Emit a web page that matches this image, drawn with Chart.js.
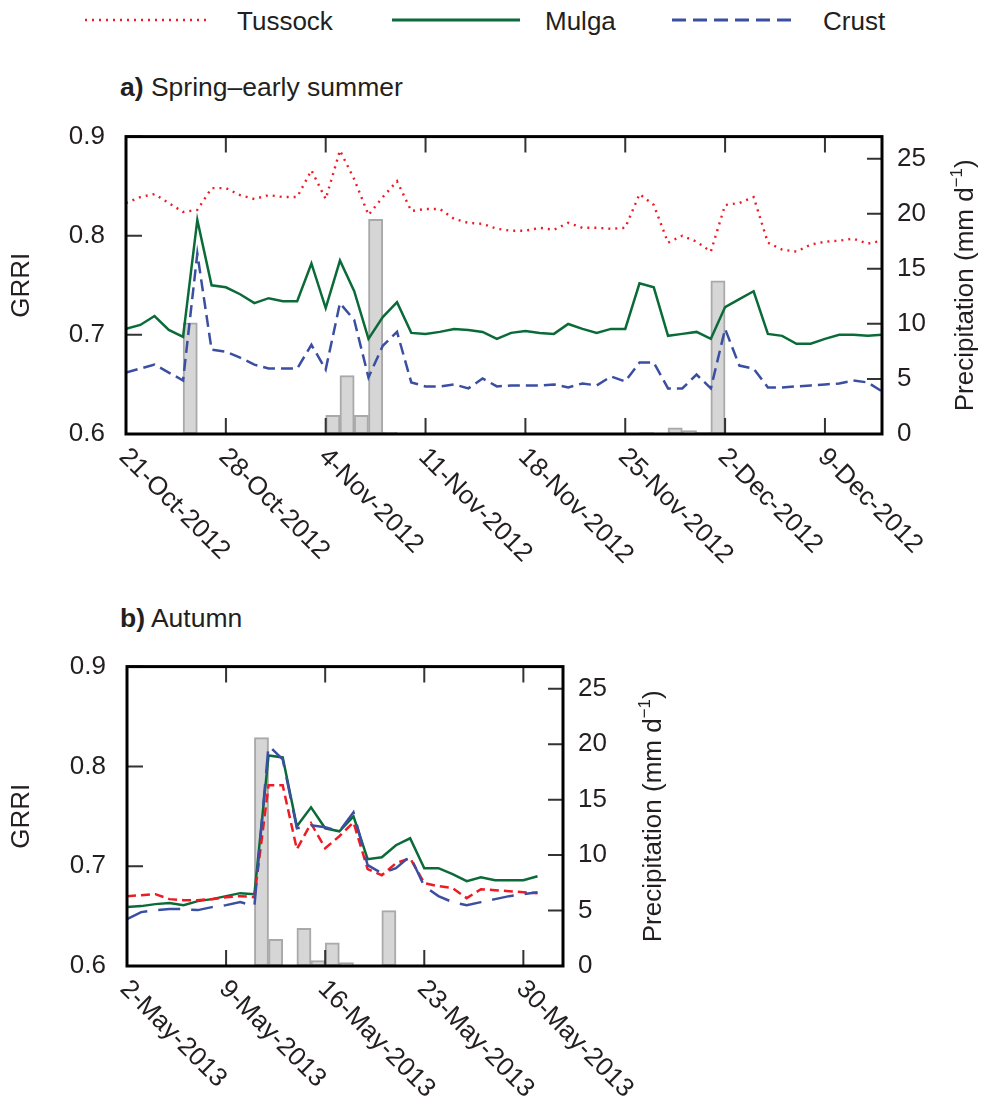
<!DOCTYPE html>
<html>
<head>
<meta charset="utf-8">
<script src="https://cdn.jsdelivr.net/npm/chart.js@4.4.1/dist/chart.umd.min.js"></script>
<style>
  body { margin: 0; background: #fff; width: 988px; height: 1108px; position: relative; overflow: hidden;
         font-family: "Liberation Sans", Arial, sans-serif; color: #231f20; }
  canvas { position: absolute; left: 0; }
  #chartA { top: 100px; }
  #chartB { top: 630px; }
  .title { position: absolute; left: 120px; font-size: 26.5px; line-height: 1; white-space: nowrap; }
  .title b { font-weight: bold; }
  #legend { position: absolute; left: 0; top: 0; }
</style>
</head>
<body>
<svg id="legend" width="988" height="50">
  <line x1="85" y1="20" x2="207" y2="20" stroke="#ed1c24" stroke-width="2.4" stroke-dasharray="2 5"/>
  <text x="237" y="30" font-size="26" font-family="Liberation Sans, Arial, sans-serif" fill="#231f20">Tussock</text>
  <line x1="392" y1="20" x2="520" y2="20" stroke="#0b6b38" stroke-width="3"/>
  <text x="545" y="30" font-size="26" font-family="Liberation Sans, Arial, sans-serif" fill="#231f20">Mulga</text>
  <line x1="672" y1="20" x2="797" y2="20" stroke="#3a4ea2" stroke-width="3" stroke-dasharray="14 7"/>
  <text x="823" y="30" font-size="26" font-family="Liberation Sans, Arial, sans-serif" fill="#231f20">Crust</text>
</svg>
<div class="title" style="top:74px"><b>a)</b> Spring–early summer</div>
<div class="title" style="top:605px"><b>b)</b> Autumn</div>
<canvas id="chartA" width="988" height="500"></canvas>
<canvas id="chartB" width="988" height="478"></canvas>
<script>
// Panel a: daily GRRI from 21-Oct-2012 (day 0) to 13-Dec-2012 (day 53)
const tussockA = [0.833, 0.839, 0.842, 0.833, 0.824, 0.826, 0.848, 0.848, 0.841, 0.837, 0.841, 0.839, 0.839, 0.866,
                  0.837, 0.886, 0.857, 0.821, 0.839, 0.855, 0.825, 0.827, 0.827, 0.817, 0.813, 0.812, 0.807, 0.805,
                  0.805, 0.808, 0.806, 0.813, 0.808, 0.808, 0.807, 0.808, 0.842, 0.831, 0.793, 0.800, 0.794,
                  0.784, 0.831, 0.833, 0.839, 0.793, 0.786, 0.784, 0.791, 0.794, 0.795, 0.797, 0.792, 0.795];
const mulgaA = [0.706, 0.710, 0.719, 0.705, 0.698, 0.816, 0.750, 0.748, 0.741, 0.732, 0.737, 0.734, 0.734, 0.772,
                0.727, 0.775, 0.744, 0.696, 0.718, 0.733, 0.702, 0.701, 0.703, 0.706, 0.705, 0.703, 0.696, 0.702,
                0.704, 0.702, 0.701, 0.711, 0.706, 0.702, 0.706, 0.706, 0.752, 0.748, 0.699, 0.701, 0.703,
                0.696, 0.728, 0.736, 0.744, 0.701, 0.699, 0.691, 0.691, 0.696, 0.700, 0.700, 0.699, 0.700];
const crustA = [0.662, 0.666, 0.670, 0.662, 0.654, 0.782, 0.685, 0.683, 0.677, 0.670, 0.666, 0.666, 0.666, 0.690,
                0.665, 0.732, 0.715, 0.657, 0.689, 0.703, 0.652, 0.648, 0.648, 0.650, 0.646, 0.656, 0.648, 0.649,
                0.649, 0.649, 0.650, 0.647, 0.651, 0.649, 0.658, 0.653, 0.672, 0.672, 0.646, 0.646, 0.660,
                0.646, 0.706, 0.669, 0.666, 0.647, 0.647, 0.648, 0.649, 0.650, 0.651, 0.654, 0.652, 0.643];
const rainDaysA = [4, 14, 15, 16, 17, 18, 36, 38, 39, 40, 41];
const rainA = [10.1, 1.7, 5.3, 1.7, 19.5, 0.15, 0.12, 0.55, 0.3, 0.15, 13.9];
const dateDaysA = [0, 7, 14, 21, 28, 35, 42, 49];
const dateLabelsA = ['21-Oct-2012', '28-Oct-2012', '4-Nov-2012', '11-Nov-2012', '18-Nov-2012',
                     '25-Nov-2012', '2-Dec-2012', '9-Dec-2012'];

// Panel b: daily GRRI from 2-May-2013 (day 0) to 31-May-2013 (day 29)
const tussockB = [0.670, 0.671, 0.672, 0.667, 0.666, 0.666, 0.667, 0.669, 0.670, 0.669, 0.781, 0.781, 0.717, 0.743,
                  0.718, 0.730, 0.744, 0.697, 0.691, 0.703, 0.708, 0.683, 0.680, 0.678, 0.668, 0.677, 0.676, 0.675,
                  0.674, 0.673];
const mulgaB = [0.659, 0.660, 0.662, 0.663, 0.661, 0.665, 0.667, 0.670, 0.673, 0.672, 0.811, 0.809, 0.740, 0.759,
                0.738, 0.735, 0.750, 0.707, 0.709, 0.721, 0.728, 0.698, 0.698, 0.692, 0.685, 0.689, 0.686, 0.686,
                0.686, 0.690];
const crustB = [0.647, 0.654, 0.656, 0.657, 0.657, 0.656, 0.659, 0.661, 0.664, 0.660, 0.821, 0.807, 0.738, 0.741,
                0.739, 0.735, 0.754, 0.701, 0.693, 0.698, 0.710, 0.680, 0.670, 0.664, 0.661, 0.664, 0.667, 0.670,
                0.672, 0.674];
const rainDaysB = [9, 10, 12, 13, 14, 15, 18];
const rainB = [20.6, 2.4, 3.4, 0.5, 2.1, 0.3, 5.0];
const dateDaysB = [0, 7, 14, 21, 28];
const dateLabelsB = ['2-May-2013', '9-May-2013', '16-May-2013', '23-May-2013', '30-May-2013'];

const grriTicks = [0.6, 0.7, 0.8, 0.9];
const rainTicks = [0, 5, 10, 15, 20, 25];

const FONT = '"Liberation Sans", Arial, sans-serif';
const INK = '#231f20';
const RED = '#ed1c24', GREEN = '#0b6b38', BLUE = '#3a4ea2';

const series = vals => vals.map((v, i) => ({ x: i, y: v }));
// rain is a daily total, so each bar spans its whole day
const rainBars = (days, vals) => days.map((d, i) => ({ x: d + 0.5, y: vals[i] }));

// frame, inward ticks, slanted date labels and both axis titles
const panelDecor = {
  id: 'panelDecor',
  afterDraw(chart, args, opts) {
    const { ctx, chartArea: a, scales } = chart;
    const { x, y, y2 } = scales;
    ctx.save();
    ctx.strokeStyle = '#333';
    ctx.lineWidth = 2;
    ctx.beginPath();
    x.ticks.forEach(t => {
      const px = x.getPixelForValue(t.value);
      ctx.moveTo(px, a.top); ctx.lineTo(px, a.top + 16);
      ctx.moveTo(px, a.bottom); ctx.lineTo(px, a.bottom - 16);
    });
    y.ticks.forEach(t => {
      const py = y.getPixelForValue(t.value);
      ctx.moveTo(a.left, py); ctx.lineTo(a.left + 16, py);
    });
    y2.ticks.forEach(t => {
      const py = y2.getPixelForValue(t.value);
      ctx.moveTo(a.right, py); ctx.lineTo(a.right - 15, py);
    });
    ctx.stroke();

    ctx.strokeStyle = '#000';
    ctx.lineWidth = 3;
    ctx.strokeRect(a.left, a.top, a.right - a.left, a.bottom - a.top);

    ctx.fillStyle = INK;
    ctx.font = `26px ${FONT}`;
    ctx.textAlign = 'left';
    ctx.textBaseline = 'middle';
    x.ticks.forEach((t, i) => {
      const px = x.getPixelForValue(t.value);
      ctx.save();
      ctx.translate(px - 3, a.bottom + 19);
      ctx.rotate(Math.PI / 4);
      ctx.fillText(opts.labels[i], 0, 0);
      ctx.restore();
    });

    const cy = (a.top + a.bottom) / 2;
    ctx.save();
    ctx.translate(22, cy);
    ctx.rotate(-Math.PI / 2);
    ctx.textAlign = 'center';
    ctx.fillText('GRRI', 0, 0);
    ctx.restore();

    // Precipitation (mm d^-1), reading upwards
    ctx.save();
    ctx.translate(a.right + opts.rightTitleGap, cy);
    ctx.rotate(-Math.PI / 2);
    ctx.textAlign = 'left';
    const main = 'Precipitation (mm d', sup = '\u22121', tail = ')';
    ctx.font = `26px ${FONT}`;
    const w1 = ctx.measureText(main).width, w3 = ctx.measureText(tail).width;
    ctx.font = `17px ${FONT}`;
    const w2 = ctx.measureText(sup).width;
    let px = -(w1 + w2 + w3) / 2;
    ctx.font = `26px ${FONT}`;
    ctx.fillText(main, px, 0);
    px += w1;
    ctx.font = `17px ${FONT}`;
    ctx.fillText(sup, px, -9);
    px += w2;
    ctx.font = `26px ${FONT}`;
    ctx.fillText(tail, px, 0);
    ctx.restore();
    ctx.restore();
  }
};

function makePanel(canvasId, p) {
  return new Chart(document.getElementById(canvasId), {
    data: {
      datasets: [
        { type: 'line', label: 'Crust', data: series(p.crust), borderColor: BLUE, borderWidth: 2.5,
          borderDash: p.crustDash, pointRadius: 0, tension: 0, yAxisID: 'y', order: 1 },
        { type: 'line', label: 'Tussock', data: series(p.tussock), borderColor: RED, borderWidth: p.tussockWidth,
          borderDash: p.tussockDash, pointRadius: 0, tension: 0, yAxisID: 'y', order: 2 },
        { type: 'line', label: 'Mulga', data: series(p.mulga), borderColor: GREEN, borderWidth: 2.5,
          pointRadius: 0, tension: 0, yAxisID: 'y', order: 3 },
        { type: 'bar', label: 'Rain', data: rainBars(p.rainDays, p.rain), backgroundColor: '#d6d6d6',
          borderColor: '#a9a9a9', borderWidth: 2, borderSkipped: false, barPercentage: 1,
          categoryPercentage: 1, yAxisID: 'y2', order: 10 }
      ]
    },
    options: {
      responsive: false,
      animation: false,
      layout: { padding: { top: p.top, left: 0, right: 0, bottom: 0 } },
      plugins: {
        legend: { display: false },
        tooltip: { enabled: false },
        panelDecor: { labels: p.dateLabels, rightTitleGap: p.rightTitleGap }
      },
      scales: {
        x: {
          type: 'linear', min: 0, max: p.xMax, offset: false,
          afterBuildTicks: s => { s.ticks = p.dateDays.map(v => ({ value: v })); },
          afterFit: s => { s.height = p.xAxisHeight; },
          ticks: { display: false },
          grid: { display: false, drawTicks: false, offset: false },
          border: { display: false }
        },
        y: {
          position: 'left', min: 0.6, max: 0.9,
          afterBuildTicks: s => { s.ticks = grriTicks.map(v => ({ value: v })); },
          afterFit: s => { s.width = p.left; },
          ticks: { padding: 21, color: INK, font: { family: FONT, size: 26 }, callback: v => v.toFixed(1) },
          grid: { display: false, drawTicks: false },
          border: { display: false }
        },
        y2: {
          position: 'right', min: 0, max: 27,
          afterBuildTicks: s => { s.ticks = rainTicks.map(v => ({ value: v })); },
          afterFit: s => { s.width = p.rightWidth; },
          ticks: { padding: 15, color: INK, font: { family: FONT, size: 26 }, callback: v => String(v) },
          grid: { display: false, drawTicks: false },
          border: { display: false }
        }
      }
    },
    plugins: [panelDecor]
  });
}

makePanel('chartA', {
  tussock: tussockA, mulga: mulgaA, crust: crustA, rainDays: rainDaysA, rain: rainA,
  dateDays: dateDaysA, dateLabels: dateLabelsA, xMax: 53,
  tussockDash: [2, 5], tussockWidth: 2.4, crustDash: [12, 6],
  top: 31, left: 126, rightWidth: 106, xAxisHeight: 166, rightTitleGap: 84
});

makePanel('chartB', {
  tussock: tussockB, mulga: mulgaB, crust: crustB, rainDays: rainDaysB, rain: rainB,
  dateDays: dateDaysB, dateLabels: dateLabelsB, xMax: 30.8,
  tussockDash: [9, 5], tussockWidth: 2.5, crustDash: [22, 11],
  top: 33, left: 127, rightWidth: 425, xAxisHeight: 142, rightTitleGap: 91
});
</script>
</body>
</html>
